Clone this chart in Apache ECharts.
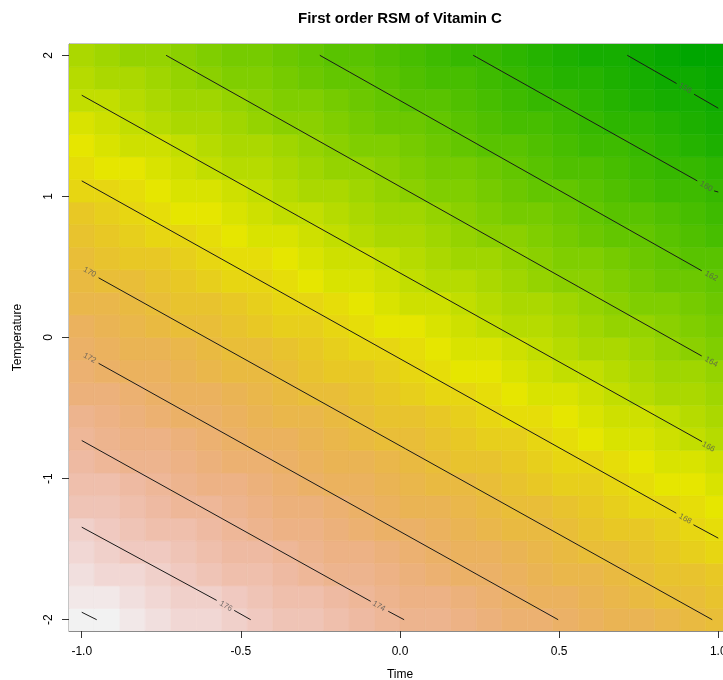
<!DOCTYPE html>
<html>
<head>
<meta charset="utf-8">
<script src="https://cdn.jsdelivr.net/npm/echarts@6/dist/echarts.min.js"></script>
<style>html,body{margin:0;padding:0;background:#fff}#c{width:723px;height:680px}</style>
</head>
<body>
<div id="c"></div>
<script>
// ---------------- data ----------------
const timeLevels = [-1.00,-0.92,-0.84,-0.76,-0.68,-0.60,-0.52,-0.44,-0.36,-0.28,-0.20,-0.12,-0.04,0.04,0.12,0.20,0.28,0.36,0.44,0.52,0.60,0.68,0.76,0.84,0.92,1.00];
const tempLevels = [-2.00,-1.84,-1.68,-1.52,-1.36,-1.20,-1.04,-0.88,-0.72,-0.56,-0.40,-0.24,-0.08,0.08,0.24,0.40,0.56,0.72,0.88,1.04,1.20,1.36,1.52,1.68,1.84,2.00];
// predicted Vitamin C, one row per Temperature level (bottom row first), one value per Time level
const vitC = [
[178.1,177.8,177.5,177.2,176.8,176.5,176.2,175.8,175.5,175.2,174.8,174.5,174.2,173.8,173.5,173.2,172.9,172.5,172.2,171.9,171.5,171.2,170.9,170.5,170.2,169.9],
[177.6,177.3,177.0,176.6,176.3,176.0,175.6,175.3,175.0,174.7,174.3,174.0,173.7,173.3,173.0,172.7,172.3,172.0,171.7,171.3,171.0,170.7,170.4,170.0,169.7,169.4],
[177.1,176.8,176.4,176.1,175.8,175.5,175.1,174.8,174.5,174.1,173.8,173.5,173.1,172.8,172.5,172.1,171.8,171.5,171.2,170.8,170.5,170.2,169.8,169.5,169.2,168.8],
[176.6,176.3,175.9,175.6,175.3,174.9,174.6,174.3,173.9,173.6,173.3,173.0,172.6,172.3,172.0,171.6,171.3,171.0,170.6,170.3,170.0,169.6,169.3,169.0,168.7,168.3],
[176.1,175.7,175.4,175.1,174.7,174.4,174.1,173.7,173.4,173.1,172.8,172.4,172.1,171.8,171.4,171.1,170.8,170.4,170.1,169.8,169.4,169.1,168.8,168.5,168.1,167.8],
[175.5,175.2,174.9,174.5,174.2,173.9,173.6,173.2,172.9,172.6,172.2,171.9,171.6,171.2,170.9,170.6,170.2,169.9,169.6,169.3,168.9,168.6,168.3,167.9,167.6,167.3],
[175.0,174.7,174.4,174.0,173.7,173.4,173.0,172.7,172.4,172.0,171.7,171.4,171.1,170.7,170.4,170.1,169.7,169.4,169.1,168.7,168.4,168.1,167.7,167.4,167.1,166.8],
[174.5,174.2,173.8,173.5,173.2,172.8,172.5,172.2,171.9,171.5,171.2,170.9,170.5,170.2,169.9,169.5,169.2,168.9,168.5,168.2,167.9,167.6,167.2,166.9,166.6,166.2],
[174.0,173.6,173.3,173.0,172.7,172.3,172.0,171.7,171.3,171.0,170.7,170.3,170.0,169.7,169.3,169.0,168.7,168.4,168.0,167.7,167.4,167.0,166.7,166.4,166.0,165.7],
[173.5,173.1,172.8,172.5,172.1,171.8,171.5,171.1,170.8,170.5,170.2,169.8,169.5,169.2,168.8,168.5,168.2,167.8,167.5,167.2,166.8,166.5,166.2,165.9,165.5,165.2],
[172.9,172.6,172.3,171.9,171.6,171.3,170.9,170.6,170.3,170.0,169.6,169.3,169.0,168.6,168.3,168.0,167.6,167.3,167.0,166.6,166.3,166.0,165.7,165.3,165.0,164.7],
[172.4,172.1,171.7,171.4,171.1,170.8,170.4,170.1,169.8,169.4,169.1,168.8,168.4,168.1,167.8,167.4,167.1,166.8,166.5,166.1,165.8,165.5,165.1,164.8,164.5,164.1],
[171.9,171.6,171.2,170.9,170.6,170.2,169.9,169.6,169.2,168.9,168.6,168.3,167.9,167.6,167.3,166.9,166.6,166.3,165.9,165.6,165.3,164.9,164.6,164.3,164.0,163.6],
[171.4,171.0,170.7,170.4,170.0,169.7,169.4,169.1,168.7,168.4,168.1,167.7,167.4,167.1,166.7,166.4,166.1,165.7,165.4,165.1,164.8,164.4,164.1,163.8,163.4,163.1],
[170.8,170.5,170.2,169.9,169.5,169.2,168.9,168.5,168.2,167.9,167.5,167.2,166.9,166.5,166.2,165.9,165.6,165.2,164.9,164.6,164.2,163.9,163.6,163.2,162.9,162.6],
[170.3,170.0,169.7,169.3,169.0,168.7,168.3,168.0,167.7,167.4,167.0,166.7,166.4,166.0,165.7,165.4,165.0,164.7,164.4,164.0,163.7,163.4,163.1,162.7,162.4,162.1],
[169.8,169.5,169.1,168.8,168.5,168.1,167.8,167.5,167.2,166.8,166.5,166.2,165.8,165.5,165.2,164.8,164.5,164.2,163.8,163.5,163.2,162.9,162.5,162.2,161.9,161.5],
[169.3,168.9,168.6,168.3,168.0,167.6,167.3,167.0,166.6,166.3,166.0,165.6,165.3,165.0,164.6,164.3,164.0,163.7,163.3,163.0,162.7,162.3,162.0,161.7,161.3,161.0],
[168.8,168.4,168.1,167.8,167.4,167.1,166.8,166.4,166.1,165.8,165.5,165.1,164.8,164.5,164.1,163.8,163.5,163.1,162.8,162.5,162.1,161.8,161.5,161.2,160.8,160.5],
[168.2,167.9,167.6,167.2,166.9,166.6,166.3,165.9,165.6,165.3,164.9,164.6,164.3,163.9,163.6,163.3,162.9,162.6,162.3,162.0,161.6,161.3,161.0,160.6,160.3,160.0],
[167.7,167.4,167.1,166.7,166.4,166.1,165.7,165.4,165.1,164.7,164.4,164.1,163.8,163.4,163.1,162.8,162.4,162.1,161.8,161.4,161.1,160.8,160.4,160.1,159.8,159.5],
[167.2,166.9,166.5,166.2,165.9,165.5,165.2,164.9,164.6,164.2,163.9,163.6,163.2,162.9,162.6,162.2,161.9,161.6,161.2,160.9,160.6,160.3,159.9,159.6,159.3,158.9],
[166.7,166.3,166.0,165.7,165.3,165.0,164.7,164.4,164.0,163.7,163.4,163.0,162.7,162.4,162.0,161.7,161.4,161.0,160.7,160.4,160.1,159.7,159.4,159.1,158.7,158.4],
[166.1,165.8,165.5,165.2,164.8,164.5,164.2,163.8,163.5,163.2,162.8,162.5,162.2,161.8,161.5,161.2,160.9,160.5,160.2,159.9,159.5,159.2,158.9,158.5,158.2,157.9],
[165.6,165.3,165.0,164.6,164.3,164.0,163.6,163.3,163.0,162.7,162.3,162.0,161.7,161.3,161.0,160.7,160.3,160.0,159.7,159.3,159.0,158.7,158.4,158.0,157.7,157.4],
[165.1,164.8,164.4,164.1,163.8,163.5,163.1,162.8,162.5,162.1,161.8,161.5,161.1,160.8,160.5,160.1,159.8,159.5,159.2,158.8,158.5,158.2,157.8,157.5,157.2,156.8]
];
// contour lines: each is a list of [Time, Temperature] segments
const contour158 = [[[0.714,2.0],[0.869,1.800]],[[0.924,1.724],[1.0,1.625]]];
const contour160 = [[[0.230,2.0],[0.934,1.110]],[[0.987,1.039],[1.0,1.031]]];
const contour162 = [[[-0.252,2.0],[0.948,0.473]]];
const contour164 = [[[-0.735,2.0],[0.948,-0.131]]];
const contour166 = [[[-1.0,1.717],[0.949,-0.738]]];
const contour168 = [[[-1.0,1.110],[0.868,-1.245]],[[0.922,-1.327],[1.0,-1.422]]];
const contour170 = [[[-0.947,0.423],[0.981,-2.0]]];
const contour172 = [[[-0.947,-0.183],[0.497,-2.0]]];
const contour174 = [[[-1.0,-0.730],[-0.092,-1.870]],[[-0.037,-1.940],[0.013,-2.0]]];
const contour176 = [[[-1.0,-1.344],[-0.576,-1.863]],[[-0.521,-1.934],[-0.469,-2.0]]];
const contour178 = [[[-1.0,-1.947],[-0.953,-2.0]]];
const contourLabelText = ['158','160','162','164','166','168','170','172','174','176'];
const contourLabelPos = [[0.896,1.767],[0.962,1.071],[0.978,0.435],[0.978,-0.173],[0.969,-0.775],[0.896,-1.285],[-0.975,0.464],[-0.975,-0.145],[-0.066,-1.904],[-0.547,-1.904]];
const xTickValues = [-1.0,-0.5,0.0,0.5,1.0];
const xTickLabels = ['-1.0','-0.5','0.0','0.5','1.0'];
const yTickValues = [-2,-1,0,1,2];
const yTickLabels = ['-2','-1','0','1','2'];
const titleText = 'First order RSM of Vitamin C';
const xName = 'Time';
const yName = 'Temperature';

// ---------------- palette (R terrain.colors(50)) ----------------
function hsv2hex(h, s, v) {
  const i = Math.floor(h * 6) % 6, f = h * 6 - Math.floor(h * 6);
  const p = v * (1 - s), q = v * (1 - f * s), t = v * (1 - (1 - f) * s);
  let r, g, b;
  switch (i) {
    case 0: r = v; g = t; b = p; break;
    case 1: r = q; g = v; b = p; break;
    case 2: r = p; g = v; b = t; break;
    case 3: r = p; g = q; b = v; break;
    case 4: r = t; g = p; b = v; break;
    default: r = v; g = p; b = q;
  }
  const hx = x => ('0' + Math.round(x * 255).toString(16)).slice(-2);
  return '#' + hx(r) + hx(g) + hx(b);
}
function terrainColors(n) {
  const k = Math.floor(n / 2), out = [];
  for (let i = 0; i < k; i++) {
    const t = k > 1 ? i / (k - 1) : 0;
    out.push(hsv2hex(4/12 + (2/12 - 4/12) * t, 1, 0.65 + 0.25 * t));
  }
  const m = n - k + 1;
  for (let i = 1; i < m; i++) {
    const t = i / (m - 1);
    out.push(hsv2hex(2/12 - 2/12 * t, 1 - t, 0.9 + 0.05 * t));
  }
  return out;
}
const palette = terrainColors(50);

// ---------------- build ----------------
const cells = [];
let zMin = Infinity, zMax = -Infinity;
vitC.forEach((row, j) => row.forEach((z, i) => {
  cells.push([timeLevels[i], tempLevels[j], z]);
  zMin = Math.min(zMin, z); zMax = Math.max(zMax, z);
}));
const halfW = (timeLevels[1] - timeLevels[0]) / 2;
const halfH = (tempLevels[1] - tempLevels[0]) / 2;
function colorFor(z) {
  let k = Math.floor((z - zMin) / (zMax - zMin) * palette.length);
  k = Math.max(0, Math.min(palette.length - 1, k));
  return palette[k];
}

const contours = [contour158, contour160, contour162, contour164, contour166, contour168, contour170, contour172, contour174, contour176, contour178];
const lineSeries = [];
contours.forEach(c => c.forEach(seg => {
  lineSeries.push({
    type: 'line', data: seg, symbol: 'none', silent: true, z: 5,
    lineStyle: { color: '#1a1a1a', width: 1 }, animation: false
  });
}));

const font = 'Liberation Sans';
const chart = echarts.init(document.getElementById('c'), null, { renderer: 'canvas' });
chart.setOption({
  animation: false,
  backgroundColor: '#ffffff',
  title: { show: false },
  graphic: [{
    type: 'text', x: 400, y: 19, silent: true,
    style: { text: titleText, fill: '#000', font: 'bold 15px "Liberation Sans"', textAlign: 'center', textVerticalAlign: 'middle' }
  }],
  grid: { left: 69, top: 44, width: 662, height: 587, show: true, borderColor: '#8a8a8a', borderWidth: 1, backgroundColor: 'transparent', containLabel: false, outerBoundsMode: 'none' },
  xAxis: {
    type: 'value', min: -1.04, max: 1.04,
    name: xName, nameLocation: 'middle', nameGap: 38,
    nameTextStyle: { fontSize: 12, fontFamily: font, color: '#000' },
    axisLine: { show: true, onZero: false, lineStyle: { color: '#8a8a8a', width: 1 } },
    splitLine: { show: false },
    axisTick: { show: true, inside: false, customValues: xTickValues, length: 7, lineStyle: { color: '#333', width: 1 } },
    axisLabel: { show: true, customValues: xTickValues, margin: 15, fontSize: 12, fontFamily: font, color: '#000',
      formatter: v => { const k = xTickValues.indexOf(v); return k >= 0 ? xTickLabels[k] : ''; } }
  },
  yAxis: {
    type: 'value', min: -2.08, max: 2.08,
    name: yName, nameLocation: 'middle', nameGap: 45, nameRotate: 90,
    nameTextStyle: { fontSize: 12, fontFamily: font, color: '#000' },
    axisLine: { show: true, onZero: false, lineStyle: { color: '#8a8a8a', width: 1 } },
    splitLine: { show: false },
    axisTick: { show: true, inside: false, customValues: yTickValues, length: 7, lineStyle: { color: '#333', width: 1 } },
    axisLabel: { show: true, customValues: yTickValues, margin: 14, rotate: 90, fontSize: 12, fontFamily: font, color: '#000',
      formatter: v => { const k = yTickValues.indexOf(v); return k >= 0 ? yTickLabels[k] : ''; } }
  },
  series: [
    {
      type: 'custom', data: cells, z: 1, silent: true, clip: true,
      renderItem: (params, api) => {
        const x = api.value(0), y = api.value(1), z = api.value(2);
        const p1 = api.coord([x - halfW, y + halfH]);
        const p2 = api.coord([x + halfW, y - halfH]);
        const c = colorFor(z);
        return {
          type: 'rect',
          shape: { x: p1[0], y: p1[1], width: p2[0] - p1[0], height: p2[1] - p1[1] },
          style: { fill: c, stroke: c, lineWidth: 0.6 }
        };
      }
    },
    ...lineSeries,
    {
      type: 'scatter', symbolSize: 0, silent: true, z: 6,
      data: contourLabelPos.map((p, i) => ({ value: p, name: contourLabelText[i] })),
      label: { show: true, position: 'inside', formatter: '{b}', rotate: -29, fontSize: 8, fontFamily: font, color: '#555' }
    }
  ]
});
</script>
</body>
</html>
